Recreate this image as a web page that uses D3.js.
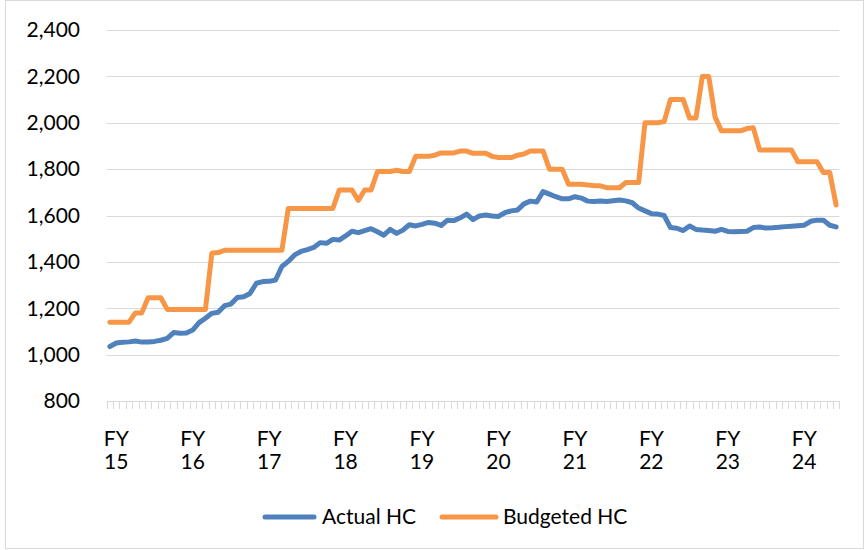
<!DOCTYPE html>
<html>
<head>
<meta charset="utf-8">
<script src="https://cdn.jsdelivr.net/npm/d3@7"></script>
<style>
  body { margin: 0; background: #fff; }
  svg { display: block; font-family: Lato, "Liberation Sans", sans-serif; }
</style>
</head>
<body>
<div id="chart"></div>
<script>
// monthly headcount, one value per month (first label sits on the 2nd month)
const actualHC = [
  1035, 1050, 1053, 1055, 1059, 1054, 1054, 1057, 1062, 1070, 1095, 1092,
  1093, 1106, 1138, 1157, 1178, 1183, 1211, 1218, 1246, 1250, 1264, 1308,
  1315, 1316, 1322, 1380, 1402, 1430, 1445, 1453, 1462, 1483, 1480, 1497,
  1494, 1512, 1532, 1526, 1535, 1543, 1530, 1515, 1540, 1523, 1537, 1560,
  1555, 1562, 1570, 1567, 1557, 1580, 1578, 1590, 1606, 1582, 1598, 1602,
  1598, 1596, 1612, 1620, 1624, 1650, 1662, 1658, 1703, 1692, 1681, 1672,
  1672, 1681, 1675, 1662, 1660, 1663, 1660, 1664, 1667, 1663, 1655, 1632,
  1620, 1608, 1606, 1600, 1548, 1545, 1535, 1555, 1540, 1537, 1535, 1532,
  1540, 1531, 1530, 1531, 1532, 1548, 1550, 1546, 1547, 1549, 1552, 1554,
  1556, 1558, 1575, 1580, 1580, 1558, 1551
];
const budgetedHC = [
  1140, 1140, 1140, 1140, 1180, 1180, 1245, 1245, 1245, 1195, 1195, 1195,
  1195, 1195, 1195, 1195, 1437, 1440, 1450, 1450, 1450, 1450, 1450, 1450,
  1450, 1450, 1450, 1450, 1630, 1630, 1630, 1630, 1630, 1630, 1630, 1630,
  1710, 1710, 1710, 1665, 1710, 1710, 1790, 1790, 1790, 1795, 1790, 1790,
  1855, 1855, 1855, 1860, 1870, 1870, 1870, 1878, 1878, 1868, 1868, 1868,
  1855, 1850, 1850, 1850, 1860, 1865, 1878, 1878, 1878, 1800, 1800, 1800,
  1735, 1735, 1735, 1732, 1728, 1728, 1720, 1720, 1720, 1742, 1742, 1742,
  2000, 2000, 2000, 2005, 2100, 2100, 2100, 2020, 2020, 2200, 2200, 2025,
  1965, 1965, 1965, 1965, 1975, 1978, 1882, 1882, 1882, 1882, 1882, 1882,
  1832, 1832, 1832, 1832, 1785, 1785, 1645
];
const fyLabels = ['15', '16', '17', '18', '19', '20', '21', '22', '23', '24'];
const yTicks = [800, 1000, 1200, 1400, 1600, 1800, 2000, 2200, 2400];
const seriesNames = ['Actual HC', 'Budgeted HC'];

const W = 865, H = 550;
const plot = { left: 106.7, right: 839.3, top: 30, bottom: 401 };
const colors = ['#4f81bd', '#f79646'];
const gridColor = '#d9d9d9';
const fontSize = 21;

const svg = d3.select('#chart').append('svg')
  .attr('width', W)
  .attr('height', H);

// chart border
svg.append('rect')
  .attr('x', 5.5).attr('y', 0.5)
  .attr('width', W - 7).attr('height', H - 2)
  .attr('fill', '#fff')
  .attr('stroke', gridColor);

const months = d3.range(actualHC.length);

const x = d3.scaleBand()
  .domain(months)
  .range([plot.left, plot.right])
  .padding(0);

const y = d3.scaleLinear()
  .domain([800, 2400])
  .range([plot.bottom, plot.top]);

// gridlines
svg.append('g')
  .selectAll('line')
  .data(yTicks)
  .join('line')
    .attr('x1', plot.left).attr('x2', plot.right)
    .attr('y1', d => Math.round(y(d)) + 0.5)
    .attr('y2', d => Math.round(y(d)) + 0.5)
    .attr('stroke', gridColor)
    .attr('stroke-width', 1);

// y labels
svg.append('g')
  .selectAll('text')
  .data(yTicks)
  .join('text')
    .attr('x', 80)
    .attr('y', d => y(d))
    .attr('dy', '0.35em')
    .attr('text-anchor', 'end')
    .attr('font-size', fontSize)
    .attr('fill', '#000')
    .text(d3.format(','));

// x tick marks between months
const edges = months.map(i => x(i)).concat([plot.right]);
svg.append('g')
  .selectAll('line')
  .data(edges)
  .join('line')
    .attr('x1', d => Math.round(d) + 0.5).attr('x2', d => Math.round(d) + 0.5)
    .attr('y1', plot.bottom).attr('y2', plot.bottom + 8)
    .attr('stroke', gridColor)
    .attr('stroke-width', 1);

// x labels, every 12 months starting at the 2nd month
const xLabels = svg.append('g')
  .selectAll('text')
  .data(fyLabels)
  .join('text')
    .attr('text-anchor', 'middle')
    .attr('font-size', fontSize)
    .attr('fill', '#000');

xLabels.append('tspan')
  .attr('x', (d, i) => x(1 + 12 * i) + x.bandwidth() / 2)
  .attr('y', 446)
  .text('FY');
xLabels.append('tspan')
  .attr('x', (d, i) => x(1 + 12 * i) + x.bandwidth() / 2)
  .attr('y', 469)
  .text(d => d);

// lines
const line = d3.line()
  .x((d, i) => x(i) + x.bandwidth() / 2)
  .y(d => y(d));

[actualHC, budgetedHC].forEach((s, k) => {
  svg.append('path')
    .datum(s)
    .attr('fill', 'none')
    .attr('stroke', colors[k])
    .attr('stroke-width', 5)
    .attr('stroke-linejoin', 'round')
    .attr('stroke-linecap', 'round')
    .attr('d', line);
});

// legend
const legendPos = [{ x1: 265, x2: 314, tx: 322 }, { x1: 442, x2: 496, tx: 503 }];
const legend = svg.append('g')
  .selectAll('g')
  .data(seriesNames)
  .join('g');

legend.append('line')
  .attr('x1', (d, i) => legendPos[i].x1)
  .attr('x2', (d, i) => legendPos[i].x2)
  .attr('y1', 517).attr('y2', 517)
  .attr('stroke', (d, i) => colors[i])
  .attr('stroke-width', 5)
  .attr('stroke-linecap', 'round');

legend.append('text')
  .attr('x', (d, i) => legendPos[i].tx)
  .attr('y', 517)
  .attr('dy', '0.35em')
  .attr('font-size', fontSize)
  .attr('fill', '#000')
  .text(d => d);
</script>
</body>
</html>
